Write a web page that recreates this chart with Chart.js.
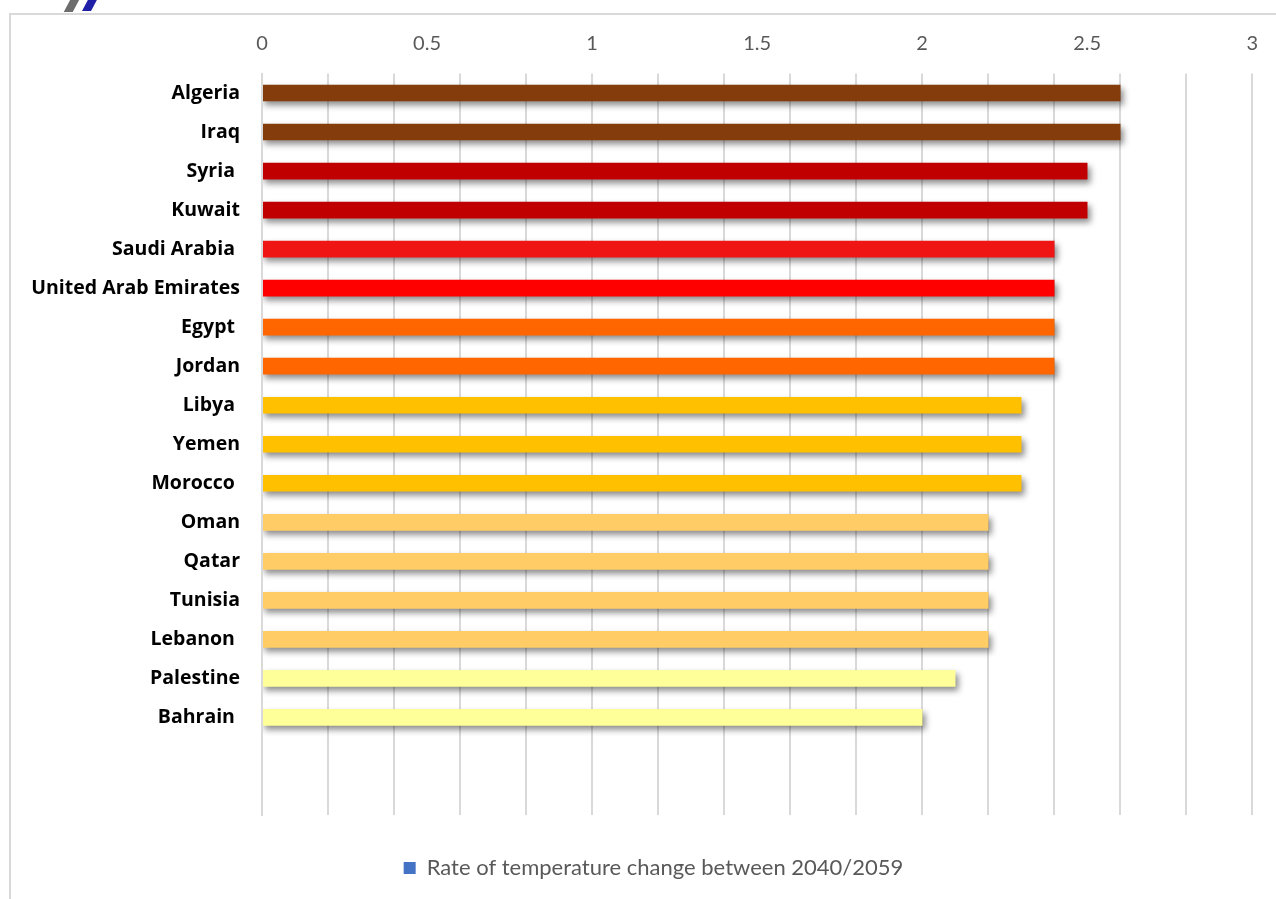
<!DOCTYPE html>
<html>
<head>
<meta charset="utf-8">
<script src="https://cdn.jsdelivr.net/npm/chart.js@4/dist/chart.umd.min.js"></script>
<style>
  html, body { margin:0; padding:0; background:#fff; width:1276px; height:899px; overflow:hidden; }
  #frame { position:absolute; left:9px; top:13px; width:1300px; height:900px;
           border-top:2px solid #d9d9d9; border-left:2px solid #d9d9d9; }
  #wrap { position:absolute; left:0; top:0; width:1276px; height:899px; }
  .logo1 { position:absolute; left:68px; top:-4px; width:9px; height:16px; background:#6d6d6d; transform:skewX(-28deg); }
  .logo2 { position:absolute; left:86px; top:-4px; width:9px; height:15px; background:#1f1fa8; transform:skewX(-28deg); }
</style>
</head>
<body>
<div class="logo1"></div><div class="logo2"></div>
<div id="frame"></div>
<div id="wrap"><canvas id="c" width="1276" height="899"></canvas></div>
<script>
const categories = ["Algeria","Iraq","Syria ","Kuwait","Saudi Arabia ","United Arab Emirates","Egypt ","Jordan","Libya ","Yemen","Morocco ","Oman","Qatar","Tunisia","Lebanon ","Palestine","Bahrain ","",""];
const values = [2.6,2.6,2.5,2.5,2.4,2.4,2.4,2.4,2.3,2.3,2.3,2.2,2.2,2.2,2.2,2.1,2.0,null,null];
const barColors = ["#843C0C","#843C0C","#C00000","#C00000","#F01515","#FF0000","#FF6600","#FF6600","#FFC000","#FFC000","#FFC000","#FFCC66","#FFCC66","#FFCC66","#FFCC66","#FFFF99","#FFFF99","#FFFF99","#FFFF99"];
const tickLabelStep = 0.5;
const gridStep = 0.2;
const seriesName = "Rate of temperature change between 2040/2059";
const legendColor = "#4472C4";

const shadowPlugin = {
  id: 'barShadow',
  beforeDatasetDraw(chart) {
    const ctx = chart.ctx;
    ctx.save();
    ctx.shadowColor = 'rgba(0,0,0,0.45)';
    ctx.shadowBlur = 6;
    ctx.shadowOffsetX = 3;
    ctx.shadowOffsetY = 4;
  },
  afterDatasetDraw(chart) { chart.ctx.restore(); }
};

const legendShift = {
  id: 'legendShift',
  afterLayout(chart) {
    const lg = chart.legend;
    if (lg) { lg.left += 27; lg.right += 27; }
  }
};

new Chart(document.getElementById('c'), {
  type: 'bar',
  data: {
    labels: categories,
    datasets: [{
      label: seriesName,
      data: values,
      backgroundColor: barColors,
      borderWidth: 0,
      barThickness: 16,
      xAxisID: 'x'
    }]
  },
  plugins: [shadowPlugin, legendShift],
  options: {
    indexAxis: 'y',
    responsive: false,
    animation: false,
    layout: { padding: { left: 0, right: 23, top: 20, bottom: 10 } },
    scales: {
      x: {
        position: 'top',
        min: 0, max: 3,
        ticks: {
          stepSize: tickLabelStep,
          autoSkip: false,
          maxRotation: 0,
          color: '#595959',
          padding: 18,
          font: { family: 'Lato', size: 20 },
          callback: (v) => String(v)
        },
        grid: { display: false, drawTicks: false },
        border: { display: false },
        afterFit(scale) { scale.height = 53.5; }
      },
      xg: {
        position: 'bottom',
        min: 0, max: 3,
        ticks: { display: false, stepSize: gridStep },
        grid: { color: '#d9d9d9', lineWidth: 2, drawTicks: false },
        border: { display: false },
        afterFit(scale) { scale.height = 34; }
      },
      y: {
        ticks: {
          color: '#000',
          padding: 22,
          autoSkip: false,
          font: { family: 'Open Sans', size: 19.5, weight: 'bold' }
        },
        grid: { display: false, drawTicks: false },
        border: { display: true, color: '#d9d9d9', width: 2, z: 1 },
        afterFit(scale) { scale.width = 262; }
      }
    },
    plugins: {
      tooltip: { enabled: false },
      legend: {
        position: 'bottom',
        labels: {
          color: '#595959',
          font: { family: 'Lato', size: 22 },
          boxWidth: 12, boxHeight: 12,
          padding: 8,
          generateLabels(chart) {
            return [{ text: seriesName, fillStyle: legendColor, strokeStyle: legendColor, lineWidth: 0, hidden: false, datasetIndex: 0, fontColor: '#595959' }];
          }
        }
      }
    }
  }
});
</script>
</body>
</html>
